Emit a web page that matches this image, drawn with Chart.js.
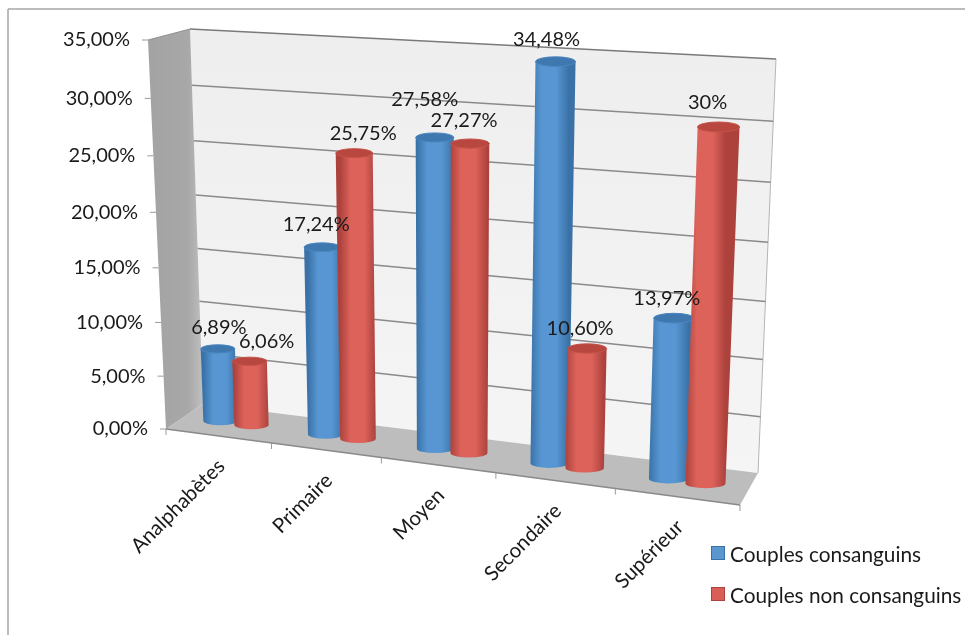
<!DOCTYPE html>
<html>
<head>
<meta charset="utf-8">
<style>html,body{margin:0;padding:0;background:#fff}canvas{display:block}</style>
<script src="https://cdn.jsdelivr.net/npm/chart.js@4"></script>
</head>
<body>
<canvas id="c" width="965" height="635"></canvas>
<script>
const categories = ['Analphabètes', 'Primaire', 'Moyen', 'Secondaire', 'Supérieur'];
const seriesNames = ['Couples consanguins', 'Couples non consanguins'];
const consanguins = [6.89, 17.24, 27.58, 34.48, 13.97];
const nonConsanguins = [6.06, 25.75, 27.27, 10.60, 30];
const yTickStep = 5;
const yMax = 35;

// label nudges relative to the cylinder top, reference has hand-placed labels
const labelNudges = [
  [[1, -17], [-6, -18], [-10, -33], [-9, -17], [-7, -15]],
  [[17, -16], [9, -15], [-6, -18], [-7, -15], [-11, -19]]
];

const FONT = 'Lato, Carlito, sans-serif';
const fmtPct = v => Number.isInteger(v) ? v + '%' : v.toFixed(2).replace('.', ',') + '%';
const fmtTick = v => v.toFixed(2).replace('.', ',') + '%';

// 3D box corners of the chart frame (f = front plane, b = back plane)
const box = {
  fbl: [166, 429], fbr: [740, 505], ftl: [148, 40], ftr: [758, 74],
  bbl: [203, 404], bbr: [758, 473], btl: [190, 29], btr: [776, 59]
};
const warp = (t, k) => t / (1 + k * (1 - t));
const lerp = (a, b, t) => a + (b - a) * t;
const lerp2 = (p, q, t) => [lerp(p[0], q[0], t), lerp(p[1], q[1], t)];
function project(u, v, d) {
  const fu = warp(u, 0.11), fv = warp(v, 0.06);
  const front = lerp2(lerp2(box.fbl, box.fbr, fu), lerp2(box.ftl, box.ftr, fu), fv);
  const back = lerp2(lerp2(box.bbl, box.bbr, fu), lerp2(box.btl, box.btr, fu), fv);
  return lerp2(front, back, d);
}
function poly(ctx, pts, fill) {
  ctx.beginPath();
  pts.forEach((p, i) => i ? ctx.lineTo(p[0], p[1]) : ctx.moveTo(p[0], p[1]));
  ctx.closePath();
  if (fill) { ctx.fillStyle = fill; ctx.fill(); }
}
function line(ctx, a, b, color, w) {
  ctx.beginPath(); ctx.moveTo(a[0], a[1]); ctx.lineTo(b[0], b[1]);
  ctx.strokeStyle = color; ctx.lineWidth = w; ctx.stroke();
}
const palette = [
  { edge: '#3a72a8', mid: '#5796d2', top: '#3f78ae', topRim: '#4a86bf', legend: '#5b97cf' },
  { edge: '#ad423d', mid: '#dc625a', top: '#b8473f', topRim: '#c6534b', legend: '#d75f57' }
];
const ELLIPSE_RATIO = 0.24;

function drawCylinder(ctx, baseC, topC, hwB, hwT, col) {
  const ryB = hwB * ELLIPSE_RATIO, ryT = hwT * ELLIPSE_RATIO;
  const g = ctx.createLinearGradient(baseC[0] - hwB, 0, baseC[0] + hwB, 0);
  g.addColorStop(0, col.edge);
  g.addColorStop(0.28, col.mid); g.addColorStop(0.68, col.mid);
  g.addColorStop(1, col.edge);
  ctx.beginPath();
  ctx.moveTo(topC[0] - hwT, topC[1]);
  ctx.lineTo(baseC[0] - hwB, baseC[1]);
  ctx.ellipse(baseC[0], baseC[1], hwB, ryB, 0, Math.PI, 0, true);
  ctx.lineTo(topC[0] + hwT, topC[1]);
  ctx.closePath();
  ctx.fillStyle = g; ctx.fill();
  ctx.beginPath();
  ctx.ellipse(topC[0], topC[1], hwT, ryT, 0, 0, Math.PI * 2);
  ctx.fillStyle = col.top; ctx.fill();
  ctx.strokeStyle = col.topRim; ctx.lineWidth = 1; ctx.stroke();
}

const frame3d = {
  id: 'frame3d',
  beforeDatasetsDraw(chart) {
    const { ctx, chartArea: a, scales: { x, y } } = chart;
    const U = px => (px - a.left) / (a.right - a.left);
    const V = px => (a.bottom - px) / (a.bottom - a.top);
    ctx.save();

    // outer frame
    line(ctx, [8, 9], [965, 9], '#a6a6a6', 1.5);
    line(ctx, [8, 9], [8, 635], '#a6a6a6', 1.5);

    // back wall, side wall, floor
    const wg = ctx.createLinearGradient(0, 30, 0, 470);
    wg.addColorStop(0, '#eeeeee'); wg.addColorStop(1, '#f5f5f5');
    poly(ctx, [box.btl, box.btr, box.bbr, box.bbl], wg);
    line(ctx, box.btr, box.bbr, '#b5b5b5', 1);
    const sg = ctx.createLinearGradient(150, 0, 205, 0);
    sg.addColorStop(0, '#a3a3a3'); sg.addColorStop(0.7, '#a8a8a8'); sg.addColorStop(1, '#c4c4c4');
    poly(ctx, [box.ftl, box.btl, box.bbl, box.fbl], sg);
    poly(ctx, [box.fbl, box.bbl, box.bbr, box.fbr], '#bdbdbd');

    // gridlines from the value scale
    y.ticks.forEach(t => {
      const v = V(y.getPixelForValue(t.value));
      if (v <= 0) return;
      line(ctx, project(0, v, 1), project(1, v, 1), v >= 1 ? '#7a7a7a' : '#8a8a8a', 1.5);
      const p = project(0, v, 0);
      line(ctx, [p[0] - 6, p[1]], p, '#9a9a9a', 1);
    });
    line(ctx, box.ftl, box.btl, '#8f8f8f', 1);
    line(ctx, box.fbl, box.fbr, '#8a8a8a', 1.5);
    line(ctx, [box.fbl[0] - 6, box.fbl[1]], box.fbl, '#9a9a9a', 1);

    // category ticks on the floor's front edge
    for (let i = 0; i <= categories.length; i++) {
      const p = project(i / categories.length, 0, 0);
      line(ctx, p, [p[0], p[1] + 6], '#9a9a9a', 1);
    }

    // cylinders
    const tops = [[], []];
    categories.forEach((_, i) => {
      [0, 1].forEach(ds => {
        const el = chart.getDatasetMeta(ds).data[i];
        const u = U(el.x), du = (el.width / (a.right - a.left)) / 2;
        const v = V(el.y);
        const mk = vv => {
          const l = project(u - du, vv, 0.5), r = project(u + du, vv, 0.5), c = project(u, vv, 0.5);
          return { c, hw: (r[0] - l[0]) / 2 + 1.5 };
        };
        const b = mk(0), t = mk(v);
        drawCylinder(ctx, b.c, t.c, b.hw, t.hw, palette[ds]);
        tops[ds][i] = [t.c[0], t.c[1] - t.hw * ELLIPSE_RATIO];
      });
    });

    // data labels
    ctx.fillStyle = '#1a1a1a';
    ctx.font = '20px ' + FONT;
    ctx.textAlign = 'center'; ctx.textBaseline = 'middle';
    chart.data.datasets.forEach((ds, d) => {
      ds.data.forEach((val, i) => {
        const n = labelNudges[d][i], p = tops[d][i];
        ctx.fillText(fmtPct(val), p[0] + n[0], p[1] + n[1]);
      });
    });

    // value axis labels
    ctx.textAlign = 'right';
    y.ticks.forEach(t => {
      const p = project(0, V(y.getPixelForValue(t.value)), 0);
      ctx.fillText(fmtTick(t.value), p[0] - 18, p[1]);
    });

    // category axis labels
    ctx.font = '20.5px ' + FONT;
    x.ticks.forEach((t, i) => {
      const p = project(U(x.getPixelForTick(i)), 0, 0);
      ctx.save();
      ctx.translate(p[0] + 3, p[1] + 27);
      ctx.rotate(-Math.PI / 4);
      ctx.textAlign = 'right'; ctx.textBaseline = 'middle';
      ctx.fillText(chart.data.labels[i], 0, 0);
      ctx.restore();
    });

    // legend
    ctx.font = '20.8px ' + FONT;
    chart.data.datasets.forEach((ds, d) => {
      const ly = 553 + d * 41;
      ctx.fillStyle = palette[d].legend;
      ctx.fillRect(711, ly - 7, 14, 14);
      ctx.strokeStyle = palette[d].edge; ctx.lineWidth = 1;
      ctx.strokeRect(711.5, ly - 6.5, 13, 13);
      ctx.fillStyle = '#1a1a1a';
      ctx.textAlign = 'left'; ctx.textBaseline = 'middle';
      ctx.fillText(ds.label, 730, ly + 2);
    });

    ctx.restore();
    return false;
  }
};

new Chart(document.getElementById('c'), {
  type: 'bar',
  data: {
    labels: categories,
    datasets: [
      { label: seriesNames[0], data: consanguins, backgroundColor: palette[0].mid },
      { label: seriesNames[1], data: nonConsanguins, backgroundColor: palette[1].mid }
    ]
  },
  options: {
    responsive: false,
    animation: false,
    layout: { padding: { left: 167, right: 227, top: 42, bottom: 205 } },
    datasets: { bar: { categoryPercentage: 0.6, barPercentage: 1 } },
    plugins: { legend: { display: false }, tooltip: { enabled: false } },
    scales: {
      x: { grid: { display: false }, border: { display: false }, ticks: { display: false } },
      y: {
        min: 0, max: yMax,
        grid: { display: false }, border: { display: false },
        ticks: { display: false, stepSize: yTickStep }
      }
    }
  },
  plugins: [frame3d]
});
</script>
</body>
</html>
